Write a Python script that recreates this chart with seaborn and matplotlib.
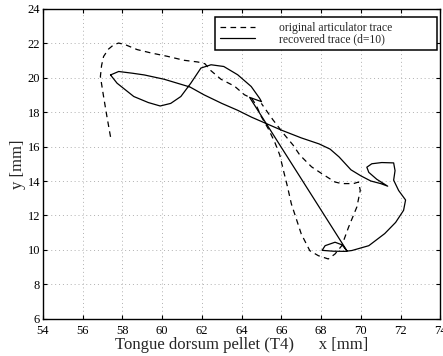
import matplotlib
matplotlib.use("Agg")
import matplotlib.pyplot as plt
import seaborn as sns
import pandas as pd

# original articulator trace (dashed)
orig_x = [57.40, 57.22, 57.05, 56.89, 56.95, 57.05, 57.30, 57.56, 57.81, 58.15,
          58.74, 59.42, 60.26, 61.10, 61.80, 62.15, 62.45, 62.96, 63.64, 64.14,
          64.50, 64.73, 64.99, 65.33, 65.66, 65.92, 66.08, 66.30, 66.50, 67.00,
          67.43, 67.86, 68.36, 68.70, 69.04, 69.38, 69.80, 69.97, 69.88, 69.63,
          69.04, 68.70, 68.03, 67.52, 66.93, 66.59, 66.17, 65.58, 64.99]
orig_y = [16.56, 17.73, 18.90, 20.06, 20.70, 21.22, 21.65, 21.90, 22.00, 21.90,
          21.62, 21.43, 21.23, 21.00, 20.90, 20.80, 20.40, 19.90, 19.50, 19.00,
          18.80, 18.40, 17.73, 17.05, 16.27, 15.50, 14.72, 13.70, 12.68, 10.93,
          9.96, 9.67, 9.48, 9.77, 10.25, 11.32, 12.50, 13.46, 13.94, 13.85,
          13.85, 13.94, 14.43, 14.82, 15.50, 16.08, 16.66, 17.54, 18.50]

# recovered trace (solid)
rec_x = [57.40, 57.81, 58.50, 59.10, 60.10, 61.40, 62.10, 63.00, 63.80, 64.50,
         65.20, 66.00, 67.00, 67.90, 68.45, 68.90, 69.50, 70.00, 70.50, 71.00,
         71.35, 70.80, 70.40, 70.30, 70.55, 71.05, 71.65, 71.72, 71.65, 71.90,
         72.25, 72.15, 71.75, 71.20, 70.40, 69.55, 69.20, 68.60, 68.05, 68.20,
         68.70, 69.05, 69.30, 64.40, 65.00, 64.90, 64.48, 63.80, 63.10, 62.46,
         61.95, 61.44, 60.94, 60.43, 59.90, 59.30, 58.57, 57.73, 57.40]
rec_y = [20.15, 20.35, 20.25, 20.15, 19.90, 19.45, 19.00, 18.50, 18.10, 17.70,
         17.35, 16.95, 16.50, 16.15, 15.85, 15.40, 14.65, 14.30, 14.00, 13.85,
         13.70, 14.10, 14.50, 14.80, 15.00, 15.07, 15.05, 14.60, 14.05, 13.45,
         12.90, 12.30, 11.60, 10.95, 10.25, 9.97, 9.92, 9.93, 9.98, 10.25,
         10.45, 10.30, 9.95, 18.85, 18.60, 18.80, 19.48, 20.16, 20.64, 20.74,
         20.55, 19.67, 18.90, 18.50, 18.35, 18.55, 18.90, 19.67, 20.15]

x_ticks = list(range(54, 75, 2))
y_ticks = list(range(6, 25, 2))

sns.set_style("ticks")
plt.rcParams['font.family'] = ['Liberation Serif', 'DejaVu Serif']

fig = plt.figure(figsize=(4.43, 3.56), dpi=100)
ax = fig.add_axes([0.097, 0.104, 0.897, 0.872])

orig = pd.DataFrame({'x': orig_x, 'y': orig_y})
rec = pd.DataFrame({'x': rec_x, 'y': rec_y})

sns.lineplot(data=orig, x='x', y='y', sort=False, estimator=None, ax=ax,
             color='black', linewidth=0.9, label='original articulator trace')
ax.lines[-1].set_dashes((4.5, 3.5))
sns.lineplot(data=rec, x='x', y='y', sort=False, estimator=None, ax=ax,
             color='black', linewidth=0.9, label='recovered trace (d=10)')

ax.set_xlim(54, 74)
ax.set_ylim(6, 24)
ax.set_xticks(x_ticks)
ax.set_yticks(y_ticks)
ax.grid(True, color='#b0b0b0', linestyle=(0, (1, 3)), linewidth=0.7)
ax.tick_params(direction='in', top=True, right=True, length=3, width=0.8,
               labelsize=9, colors='black')
ax.tick_params(axis='x', pad=4.5)
ax.tick_params(axis='y', pad=2)
for s in ax.spines.values():
    s.set_linewidth(1.0)
    s.set_color('black')

ax.set_xlabel('Tongue dorsum pellet (T4)      x [mm]', fontsize=12, labelpad=0)
ax.set_ylabel('y [mm]', fontsize=12, labelpad=1)

leg = ax.legend(loc='upper left', bbox_to_anchor=(0.433, 0.5, 0.558, 0.474),
                mode='expand', borderaxespad=0, fontsize=8.4, handlelength=3.0,
                handletextpad=2.0, labelspacing=-0.08, borderpad=0.45,
                fancybox=False, framealpha=1, edgecolor='black')
leg.get_frame().set_linewidth(1.1)
for h in leg.get_lines():
    h.set_linewidth(0.9)

fig.savefig('out.png', dpi=100)
